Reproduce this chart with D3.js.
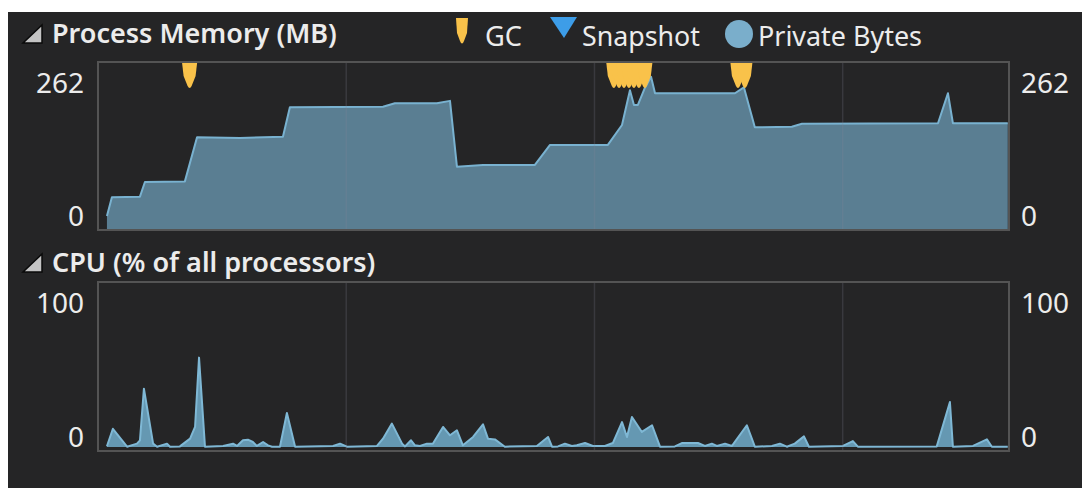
<!DOCTYPE html>
<html>
<head>
<meta charset="utf-8">
<script src="https://cdn.jsdelivr.net/npm/d3@7"></script>
<style>
  body { margin: 0; background: #ffffff; }
  svg { display: block; }
  text { font-family: "Noto Sans", "Open Sans", sans-serif; }
</style>
</head>
<body>
<svg id="chart" width="1082" height="488"></svg>
<script>
// Data (time in seconds)
var memTimes = [0.36, 0.56, 1.69, 1.89, 3.50, 3.99, 5.72, 7.45, 7.73, 11.48, 11.96, 13.65, 14.18, 14.46,
                15.51, 17.60, 18.21, 20.54, 21.11, 21.43, 21.59, 21.75, 22.03, 22.28, 22.44, 25.66,
                26.02, 26.46, 27.95, 28.36, 33.84, 34.24, 34.44, 36.65];
var memValues = [22, 54, 55, 80, 81, 156, 155, 157, 207, 208, 214, 214, 218, 106,
                 109, 109, 143, 143, 177, 236, 211, 211, 240, 259, 231, 231,
                 241, 173, 174, 179, 180, 231, 180, 180];
var gcTimes = [3.69, 20.78, 20.99, 21.19, 21.39, 21.59, 21.79, 22.03, 25.78, 26.06];

var cpuTimes = [0.36, 0.60, 1.17, 1.57, 1.69, 1.85, 2.22, 2.38, 2.78, 2.90, 3.30, 3.71, 3.91, 4.07, 4.31,
                5.04, 5.44, 5.60, 5.84, 6.04, 6.24, 6.40, 6.65, 6.85, 7.01, 7.33, 7.61, 7.94,
                9.47, 9.75, 10.03, 11.24, 11.48, 11.84, 12.25, 12.37, 12.61, 12.77, 12.97, 13.25,
                13.49, 13.90, 14.18, 14.46, 14.70, 15.11, 15.51, 15.71, 15.99, 16.39, 17.68, 18.13,
                18.29, 18.53, 18.81, 19.09, 19.29, 19.62, 19.94, 20.42, 20.74, 21.11, 21.31, 21.51,
                21.91, 22.32, 22.64, 23.24, 23.52, 24.17, 24.45, 24.73, 24.93, 25.26, 25.54, 26.14,
                26.46, 27.15, 27.47, 27.75, 28.07, 28.44, 28.64, 30.01, 30.41, 30.61, 33.79, 34.32,
                34.44, 35.25, 35.81, 36.01, 36.65];
var cpuValues = [0.5, 12, 0.2, 2.2, 4.4, 38.4, 2.2, 0.2, 2.2, 0.2, 0.4, 5.5, 13.2, 58.8, 0.2,
                 0.7, 2.2, 0.7, 4.4, 4.8, 3.3, 0.7, 3.3, 1.1, 0.2, 0.2, 22.4, 0.2,
                 0.7, 2.2, 0.2, 0.7, 5.5, 15.4, 2.2, 0.4, 4.4, 1.1, 0.7, 2.2,
                 2.2, 13.2, 7.7, 11, 1.1, 6.6, 14.9, 5.5, 5, 0.2, 0.7, 6.6,
                 0.2, 0.4, 2.2, 0.7, 1.1, 2.6, 0.7, 0.7, 2.6, 16.4, 6.6, 19.7,
                 9.9, 14.3, 0.2, 0.4, 2.6, 2.6, 0.7, 2.2, 0.7, 2.2, 0.7, 14.3,
                 0.2, 0.7, 2.2, 0.2, 2.2, 7, 0.2, 0.7, 3.9, 0.2, 0.4, 29.6,
                 0.2, 0.7, 5, 0.2, 0.2];

var gridTimes = [10, 20, 30];
var memTicks = [262, 0];
var cpuTicks = [100, 0];
var panelTitles = ["Process Memory (MB)", "CPU (% of all processors)"];
var legendLabels = ["GC", "Snapshot", "Private Bytes"];

// Colors
var bgColor = "#252526";
var frameColor = "#545454";
var gridColor = "rgba(130,130,150,0.22)";
var textColor = "#ececec";
var memFill = "#5a7e92";
var memStroke = "#79b2d0";
var cpuFill = "#6598b2";
var cpuStroke = "#7fb8d5";
var gcColor = "#f9c24a";
var snapColor = "#3d9de8";
var bytesColor = "#7aaecb";

// Layout
var plot = { left: 98, right: 1009 };
var memPanel = { top: 62, bottom: 230, zero: 229, max: 75 };
var cpuPanel = { top: 282, bottom: 451, zero: 447, max: 295 };

var svg = d3.select("#chart");
svg.append("rect").attr("x", 8).attr("y", 12).attr("width", 1074).attr("height", 476).style("fill", bgColor);

// Scales
var xScale = d3.scaleLinear().domain([0, 36.7]).range([plot.left, plot.right]);
var yMem = d3.scaleLinear().domain([0, 262]).range([memPanel.zero, memPanel.max]);
var yCpu = d3.scaleLinear().domain([0, 100]).range([cpuPanel.zero, cpuPanel.max]);

var memData = memTimes.map(function(t, i) { return { t: t, v: memValues[i] }; });
var cpuData = cpuTimes.map(function(t, i) { return { t: t, v: cpuValues[i] }; });

// Panel header (triangle + title)
var drawHeader = function(title, baseline) {
  svg.append("path")
     .attr("d", "M42," + (baseline - 18) + " L42," + baseline + " L23," + baseline + " Z")
     .style("fill", "#c4c4c4")
     .style("stroke", "#0a0a0a")
     .style("stroke-width", 1.5);
  svg.append("text")
     .attr("x", 52)
     .attr("y", baseline)
     .style("font-size", "27px")
     .style("font-weight", 600)
     .style("fill", textColor)
     .text(title);
};

// Panel frame, gridlines and value labels
var drawPanel = function(panel, yScale, ticks, data, fill, stroke) {
  var g = svg.append("g");
  var area = d3.area()
               .x(function(d) { return xScale(d.t); })
               .y0(yScale(0))
               .y1(function(d) { return yScale(d.v); });
  var line = d3.line()
               .x(function(d) { return xScale(d.t); })
               .y(function(d) { return yScale(d.v); });
  g.append("path").datum(data).attr("d", area).style("fill", fill);
  g.append("path").datum(data).attr("d", line)
   .style("fill", "none").style("stroke", stroke).style("stroke-width", 2)
   .style("stroke-linejoin", "round");

  g.selectAll(".grid")
   .data(gridTimes)
   .enter()
   .append("line")
   .attr("class", "grid")
   .attr("x1", function(d) { return xScale(d); })
   .attr("x2", function(d) { return xScale(d); })
   .attr("y1", panel.top)
   .attr("y2", panel.bottom)
   .style("stroke", gridColor)
   .style("stroke-width", 1.5);

  g.append("rect")
   .attr("x", plot.left)
   .attr("y", panel.top)
   .attr("width", plot.right - plot.left)
   .attr("height", panel.bottom - panel.top)
   .style("fill", "none")
   .style("stroke", frameColor)
   .style("stroke-width", 2);

  // labels on both sides
  var labelY = function(d, i) { return i == 0 ? panel.top + 31 : panel.bottom - 4; };
  g.selectAll(".leftLabel")
   .data(ticks)
   .enter()
   .append("text")
   .attr("class", "leftLabel")
   .attr("x", 84)
   .attr("y", labelY)
   .attr("text-anchor", "end")
   .style("font-size", "28px")
   .style("fill", textColor)
   .text(function(d) { return d; });
  g.selectAll(".rightLabel")
   .data(ticks)
   .enter()
   .append("text")
   .attr("class", "rightLabel")
   .attr("x", 1021)
   .attr("y", labelY)
   .style("font-size", "28px")
   .style("fill", textColor)
   .text(function(d) { return d; });
  return g;
};

drawHeader(panelTitles[0], 43);
drawHeader(panelTitles[1], 272);
drawPanel(memPanel, yMem, memTicks, memData, memFill, memStroke);
drawPanel(cpuPanel, yCpu, cpuTicks, cpuData, cpuFill, cpuStroke);

// GC markers at top of memory panel
var gcPath = "M-7.5,0 L7.5,0 L6,13 L2,23 Q0,27 -2,23 L-6,13 Z";
svg.selectAll(".gcMark")
   .data(gcTimes)
   .enter()
   .append("path")
   .attr("class", "gcMark")
   .attr("transform", function(d) { return "translate(" + xScale(d) + "," + (memPanel.top + 1) + ")"; })
   .attr("d", gcPath)
   .style("fill", gcColor);

// Legend
var legend = svg.append("g");
legend.append("path")
      .attr("transform", "translate(462,18)")
      .attr("d", "M-6,0 L6,0 L5,15 L2,23 Q0,28 -2,23 L-5,15 Z")
      .style("fill", gcColor);
legend.append("path")
      .attr("d", "M550,17 L577,17 L564,38 Z")
      .style("fill", snapColor);
legend.append("circle")
      .attr("cx", 739).attr("cy", 34).attr("r", 14)
      .style("fill", bytesColor);
var legendX = [485, 582, 758];
var legendW = [37, 118, 164];
legend.selectAll(".legendText")
      .data(legendLabels)
      .enter()
      .append("text")
      .attr("class", "legendText")
      .attr("x", function(d, i) { return legendX[i]; })
      .attr("y", 46)
      .attr("textLength", function(d, i) { return legendW[i]; })
      .attr("lengthAdjust", "spacingAndGlyphs")
      .style("font-size", "28px")
      .style("fill", textColor)
      .text(function(d) { return d; });
</script>
</body>
</html>
